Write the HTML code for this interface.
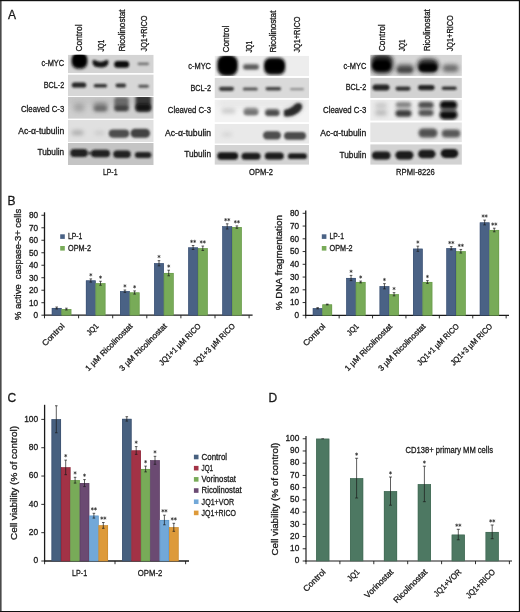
<!DOCTYPE html>
<html><head><meta charset="utf-8"><title>Figure</title>
<style>
html,body{margin:0;padding:0;background:#fff;}
body{width:520px;height:612px;overflow:hidden;font-family:"Liberation Sans", sans-serif;}
svg{display:block;font-family:"Liberation Sans", sans-serif;will-change:transform;}
text{stroke:#1a1a1a;stroke-width:0.3px;}
</style></head><body>
<svg width="520" height="612" viewBox="0 0 520 612">
<defs>
<filter id="b06" x="-50%" y="-100%" width="200%" height="300%"><feGaussianBlur stdDeviation="0.6"/></filter>
<filter id="b08" x="-50%" y="-100%" width="200%" height="300%"><feGaussianBlur stdDeviation="0.8"/></filter>
<filter id="b10" x="-50%" y="-100%" width="200%" height="300%"><feGaussianBlur stdDeviation="1.0"/></filter>
<filter id="b13" x="-50%" y="-100%" width="200%" height="300%"><feGaussianBlur stdDeviation="1.3"/></filter>
<filter id="b16" x="-50%" y="-100%" width="200%" height="300%"><feGaussianBlur stdDeviation="1.6"/></filter>
<filter id="b20" x="-50%" y="-100%" width="200%" height="300%"><feGaussianBlur stdDeviation="2.0"/></filter>
<filter id="b25" x="-50%" y="-100%" width="200%" height="300%"><feGaussianBlur stdDeviation="2.5"/></filter>
<filter id="b30" x="-50%" y="-100%" width="200%" height="300%"><feGaussianBlur stdDeviation="3.0"/></filter>
</defs>
<rect x="0" y="0" width="520" height="612" fill="#ffffff"/>
<text x="7.9" y="18.6" font-size="12" text-anchor="start" fill="#1a1a1a" >A</text>
<text x="7.4" y="205.3" font-size="12" text-anchor="start" fill="#1a1a1a" >B</text>
<text x="7.4" y="402" font-size="12" text-anchor="start" fill="#1a1a1a" >C</text>
<text x="268.6" y="402.1" font-size="12" text-anchor="start" fill="#1a1a1a" >D</text>
<text x="81.7" y="51.5" font-size="8.6" text-anchor="start" fill="#1a1a1a" textLength="27" lengthAdjust="spacingAndGlyphs" transform="rotate(-90 81.7 51.5)" >Control</text>
<text x="103.8" y="51.5" font-size="8.6" text-anchor="start" fill="#1a1a1a" textLength="11.8" lengthAdjust="spacingAndGlyphs" transform="rotate(-90 103.8 51.5)" >JQ1</text>
<text x="125.4" y="51.5" font-size="8.6" text-anchor="start" fill="#1a1a1a" textLength="42" lengthAdjust="spacingAndGlyphs" transform="rotate(-90 125.4 51.5)" >Ricolinostat</text>
<text x="146.6" y="51.5" font-size="8.6" text-anchor="start" fill="#1a1a1a" textLength="36" lengthAdjust="spacingAndGlyphs" transform="rotate(-90 146.6 51.5)" >JQ1+RICO</text>
<text x="64.2" y="66.3" font-size="8.6" text-anchor="end" fill="#1a1a1a" textLength="22.7" lengthAdjust="spacingAndGlyphs" >c-MYC</text>
<text x="64.2" y="88.3" font-size="8.6" text-anchor="end" fill="#1a1a1a" textLength="20.5" lengthAdjust="spacingAndGlyphs" >BCL-2</text>
<text x="64.2" y="111.5" font-size="8.6" text-anchor="end" fill="#1a1a1a" textLength="43.2" lengthAdjust="spacingAndGlyphs" >Cleaved C-3</text>
<text x="64.2" y="134" font-size="8.6" text-anchor="end" fill="#1a1a1a" textLength="46" lengthAdjust="spacingAndGlyphs" >Ac-α-tubulin</text>
<text x="64.2" y="155.2" font-size="8.6" text-anchor="end" fill="#1a1a1a" textLength="26.8" lengthAdjust="spacingAndGlyphs" >Tubulin</text>
<clipPath id="c1"><rect x="68" y="54.7" width="85.69999999999999" height="18.5"/></clipPath>
<g clip-path="url(#c1)">
<rect x="68" y="54.7" width="85.69999999999999" height="18.5" fill="#d4d4d4"/>
<rect x="71.75" y="53.25" width="15.5" height="15.5" rx="6" fill="#0a0a0a" opacity="1" filter="url(#b16)"/>
<rect x="73.25" y="53.75" width="12.5" height="12.5" rx="5" fill="#000" opacity="1" filter="url(#b10)"/>
<path d="M92.7 60.6 C93.1 59.7 95 59.9 96.5 60.7 C99 62.1 102 62.1 104.5 60.7 C106 59.9 107.9 59.7 108.3 60.8 C108.9 63.2 107.7 66.6 104 67.2 C101.5 67.6 99 67.6 96.5 67.1 C93.1 66.4 92.1 63.2 92.7 60.6 Z" fill="#141414" opacity="1" filter="url(#b08)"/>
<rect x="114.20" y="61.10" width="15" height="6.6" rx="3.3" fill="#101010" opacity="1" filter="url(#b10)"/>
<rect x="137.55" y="62.45" width="11.5" height="2.7" rx="1.35" fill="#555" opacity="0.75" filter="url(#b10)"/>
</g>
<clipPath id="c2"><rect x="68" y="74.4" width="85.69999999999999" height="21.799999999999997"/></clipPath>
<g clip-path="url(#c2)">
<rect x="68" y="74.4" width="85.69999999999999" height="21.799999999999997" fill="#d7d7d7"/>
<rect x="71.75" y="82.40" width="14.5" height="5.2" rx="2.6" fill="#1c1c1c" opacity="0.95" filter="url(#b10)"/>
<rect x="93.65" y="83.90" width="13.5" height="3.6" rx="1.8" fill="#222" opacity="0.9" filter="url(#b10)"/>
<rect x="115.55" y="83.40" width="10.5" height="4" rx="2.0" fill="#222" opacity="0.9" filter="url(#b10)"/>
<rect x="138.35" y="84.75" width="10.5" height="2.9" rx="1.45" fill="#333" opacity="0.8" filter="url(#b10)"/>
</g>
<clipPath id="c3"><rect x="68" y="97.0" width="85.69999999999999" height="21.799999999999997"/></clipPath>
<g clip-path="url(#c3)">
<rect x="68" y="97.0" width="85.69999999999999" height="21.799999999999997" fill="#cfcfcf"/>
<rect x="66.00" y="96.00" width="90" height="8" rx="4.0" fill="#b8b8b8" opacity="0.6" filter="url(#b30)"/>
<rect x="73.50" y="103.50" width="11" height="8" rx="4.0" fill="#777" opacity="0.5" filter="url(#b25)"/>
<rect x="93.50" y="102.50" width="14" height="9" rx="3" fill="#555" opacity="0.6" filter="url(#b20)"/>
<rect x="94.00" y="106.45" width="13" height="4.5" rx="2.25" fill="#444" opacity="0.45" filter="url(#b16)"/>
<rect x="114.25" y="97.00" width="14.5" height="14" rx="3" fill="#444" opacity="0.7" filter="url(#b16)"/>
<rect x="114.50" y="105.55" width="14" height="5.5" rx="2.75" fill="#222" opacity="0.6" filter="url(#b16)"/>
<rect x="135.55" y="94.50" width="15.5" height="17" rx="3" fill="#222" opacity="0.88" filter="url(#b16)"/>
<rect x="135.80" y="104.00" width="15" height="7" rx="3.5" fill="#0a0a0a" opacity="0.85" filter="url(#b16)"/>
</g>
<clipPath id="c4"><rect x="68" y="120.0" width="85.69999999999999" height="22.0"/></clipPath>
<g clip-path="url(#c4)">
<rect x="68" y="120.0" width="85.69999999999999" height="22.0" fill="#e0e0e0"/>
<rect x="71.50" y="130.55" width="12" height="4.5" rx="2.25" fill="#666" opacity="0.45" filter="url(#b20)"/>
<rect x="94.50" y="131.00" width="10" height="4" rx="2.0" fill="#888" opacity="0.25" filter="url(#b20)"/>
<rect x="108.75" y="129.50" width="20.5" height="8.2" rx="4.1" fill="#3c3c3c" opacity="0.9" filter="url(#b13)"/>
<rect x="130.55" y="128.70" width="19.5" height="9" rx="4.5" fill="#363636" opacity="0.92" filter="url(#b13)"/>
</g>
<clipPath id="c5"><rect x="68" y="142.9" width="85.69999999999999" height="22.099999999999994"/></clipPath>
<g clip-path="url(#c5)">
<rect x="68" y="142.9" width="85.69999999999999" height="22.099999999999994" fill="#c4c4c4"/>
<rect x="70.25" y="149.00" width="17.5" height="8" rx="4.0" fill="#1a1a1a" opacity="0.97" filter="url(#b10)"/>
<rect x="91.10" y="149.70" width="19" height="7.6" rx="3.8" fill="#1c1c1c" opacity="0.97" filter="url(#b10)"/>
<rect x="87.00" y="152.05" width="6" height="2.5" rx="1.25" fill="#222" opacity="0.8" filter="url(#b10)"/>
<rect x="113.25" y="150.50" width="17.5" height="7.4" rx="3.7" fill="#1c1c1c" opacity="0.97" filter="url(#b10)"/>
<rect x="134.85" y="152.00" width="16.5" height="6" rx="3.0" fill="#1e1e1e" opacity="0.97" filter="url(#b10)"/>
</g>
<text x="110.2" y="175.4" font-size="9.1" text-anchor="middle" fill="#1a1a1a" textLength="14.6" lengthAdjust="spacingAndGlyphs" >LP-1</text>
<text x="229.4" y="52.6" font-size="8.6" text-anchor="start" fill="#1a1a1a" textLength="27" lengthAdjust="spacingAndGlyphs" transform="rotate(-90 229.4 52.6)" >Control</text>
<text x="251.7" y="52.6" font-size="8.6" text-anchor="start" fill="#1a1a1a" textLength="11.8" lengthAdjust="spacingAndGlyphs" transform="rotate(-90 251.7 52.6)" >JQ1</text>
<text x="275.6" y="52.6" font-size="8.6" text-anchor="start" fill="#1a1a1a" textLength="42" lengthAdjust="spacingAndGlyphs" transform="rotate(-90 275.6 52.6)" >Ricolinostat</text>
<text x="299.8" y="52.6" font-size="8.6" text-anchor="start" fill="#1a1a1a" textLength="36" lengthAdjust="spacingAndGlyphs" transform="rotate(-90 299.8 52.6)" >JQ1+RICO</text>
<text x="211" y="68.5" font-size="8.6" text-anchor="end" fill="#1a1a1a" textLength="22.7" lengthAdjust="spacingAndGlyphs" >c-MYC</text>
<text x="211" y="90.8" font-size="8.6" text-anchor="end" fill="#1a1a1a" textLength="20.5" lengthAdjust="spacingAndGlyphs" >BCL-2</text>
<text x="211" y="113.1" font-size="8.6" text-anchor="end" fill="#1a1a1a" textLength="43.2" lengthAdjust="spacingAndGlyphs" >Cleaved C-3</text>
<text x="211" y="136.2" font-size="8.6" text-anchor="end" fill="#1a1a1a" textLength="46" lengthAdjust="spacingAndGlyphs" >Ac-α-tubulin</text>
<text x="211" y="157.2" font-size="8.6" text-anchor="end" fill="#1a1a1a" textLength="26.8" lengthAdjust="spacingAndGlyphs" >Tubulin</text>
<clipPath id="c6"><rect x="214.5" y="55.8" width="94.5" height="20.200000000000003"/></clipPath>
<g clip-path="url(#c6)">
<rect x="214.5" y="55.8" width="94.5" height="20.200000000000003" fill="#ededed"/>
<rect x="217.25" y="55.00" width="20.5" height="21" rx="8" fill="#0c0c0c" opacity="1" filter="url(#b16)"/>
<rect x="219.00" y="57.00" width="17" height="16" rx="7" fill="#000" opacity="1" filter="url(#b10)"/>
<rect x="243.00" y="64.00" width="16" height="5.6" rx="2.8" fill="#555" opacity="0.85" filter="url(#b16)"/>
<rect x="244.00" y="66.10" width="14" height="3" rx="1.5" fill="#444" opacity="0.5" filter="url(#b10)"/>
<rect x="264.10" y="57.80" width="21" height="17" rx="6" fill="#111" opacity="1" filter="url(#b16)"/>
<rect x="265.35" y="60.50" width="18.5" height="11" rx="5.5" fill="#000" opacity="1" filter="url(#b10)"/>
</g>
<clipPath id="c7"><rect x="214.5" y="77.8" width="94.5" height="20.400000000000006"/></clipPath>
<g clip-path="url(#c7)">
<rect x="214.5" y="77.8" width="94.5" height="20.400000000000006" fill="#dadada"/>
<rect x="219.00" y="86.70" width="15" height="4.2" rx="2.1" fill="#2a2a2a" opacity="0.9" filter="url(#b10)"/>
<rect x="242.80" y="87.40" width="15" height="3.2" rx="1.6" fill="#333" opacity="0.8" filter="url(#b10)"/>
<rect x="265.55" y="87.10" width="15.5" height="3.4" rx="1.7" fill="#2a2a2a" opacity="0.85" filter="url(#b10)"/>
<rect x="290.00" y="88.05" width="14" height="2.3" rx="1.15" fill="#666" opacity="0.65" filter="url(#b10)"/>
</g>
<clipPath id="c8"><rect x="214.5" y="99.7" width="94.5" height="22.599999999999994"/></clipPath>
<g clip-path="url(#c8)">
<rect x="214.5" y="99.7" width="94.5" height="22.599999999999994" fill="#f3f3f3"/>
<rect x="217.00" y="100.00" width="90" height="6" rx="3.0" fill="#ddd" opacity="0.7" filter="url(#b30)"/>
<rect x="221.50" y="108.75" width="14" height="4.5" rx="2.25" fill="#999" opacity="0.5" filter="url(#b20)"/>
<rect x="243.50" y="107.80" width="15" height="7.4" rx="3.7" fill="#666" opacity="0.78" filter="url(#b16)"/>
<rect x="244.00" y="111.25" width="14" height="3.5" rx="1.75" fill="#555" opacity="0.4" filter="url(#b13)"/>
<rect x="265.05" y="109.00" width="14.5" height="6.8" rx="3.4" fill="#444" opacity="0.85" filter="url(#b16)"/>
<rect x="265.55" y="111.80" width="13.5" height="3.6" rx="1.8" fill="#333" opacity="0.5" filter="url(#b10)"/>
<path d="M284.2 110.2 C288 109.8 292 108 295.5 104.3 C297.8 102.6 301.4 102.8 301.9 106 C302.3 109.8 298 113.4 293 115.2 C289 116.5 285.3 116.6 284.2 115.8 Z" fill="#1e1e1e" opacity="0.95" filter="url(#b10)"/>
<path d="M284.2 110.2 C288 109.8 292 108 295.5 104.3 C297.8 102.6 301.4 102.8 301.9 106 C302.3 109.8 298 113.4 293 115.2 C289 116.5 285.3 116.6 284.2 115.8 Z" fill="#333" opacity="0.5" filter="url(#b20)"/>
</g>
<clipPath id="c9"><rect x="214.5" y="123.9" width="94.5" height="19.799999999999983"/></clipPath>
<g clip-path="url(#c9)">
<rect x="214.5" y="123.9" width="94.5" height="19.799999999999983" fill="#e9e9e9"/>
<rect x="222.00" y="132.50" width="10" height="4" rx="2.0" fill="#aaa" opacity="0.35" filter="url(#b20)"/>
<rect x="263.00" y="131.20" width="18" height="8.4" rx="4.2" fill="#404040" opacity="0.92" filter="url(#b13)"/>
<rect x="284.00" y="131.90" width="22" height="7.8" rx="3.9" fill="#3e3e3e" opacity="0.92" filter="url(#b13)"/>
</g>
<clipPath id="c10"><rect x="214.5" y="145.0" width="94.5" height="19.80000000000001"/></clipPath>
<g clip-path="url(#c10)">
<rect x="214.5" y="145.0" width="94.5" height="19.80000000000001" fill="#d3d3d3"/>
<rect x="217.20" y="152.30" width="21" height="7.4" rx="3.7" fill="#181818" opacity="1" filter="url(#b10)"/>
<rect x="241.50" y="152.70" width="19" height="7" rx="3.5" fill="#1a1a1a" opacity="1" filter="url(#b10)"/>
<rect x="264.80" y="152.60" width="19" height="7" rx="3.5" fill="#1a1a1a" opacity="1" filter="url(#b10)"/>
<rect x="287.90" y="153.30" width="19" height="5.8" rx="2.9" fill="#1c1c1c" opacity="1" filter="url(#b10)"/>
</g>
<text x="261" y="175.2" font-size="9.1" text-anchor="middle" fill="#1a1a1a" textLength="24" lengthAdjust="spacingAndGlyphs" >OPM-2</text>
<text x="384.7" y="51.3" font-size="8.6" text-anchor="start" fill="#1a1a1a" textLength="27" lengthAdjust="spacingAndGlyphs" transform="rotate(-90 384.7 51.3)" >Control</text>
<text x="404.8" y="51.3" font-size="8.6" text-anchor="start" fill="#1a1a1a" textLength="11.8" lengthAdjust="spacingAndGlyphs" transform="rotate(-90 404.8 51.3)" >JQ1</text>
<text x="430.4" y="51.3" font-size="8.6" text-anchor="start" fill="#1a1a1a" textLength="42" lengthAdjust="spacingAndGlyphs" transform="rotate(-90 430.4 51.3)" >Ricolinostat</text>
<text x="453.4" y="51.3" font-size="8.6" text-anchor="start" fill="#1a1a1a" textLength="36" lengthAdjust="spacingAndGlyphs" transform="rotate(-90 453.4 51.3)" >JQ1+RICO</text>
<text x="366.3" y="68.5" font-size="8.6" text-anchor="end" fill="#1a1a1a" textLength="22.7" lengthAdjust="spacingAndGlyphs" >c-MYC</text>
<text x="366.3" y="90.3" font-size="8.6" text-anchor="end" fill="#1a1a1a" textLength="20.5" lengthAdjust="spacingAndGlyphs" >BCL-2</text>
<text x="366.3" y="113.1" font-size="8.6" text-anchor="end" fill="#1a1a1a" textLength="43.2" lengthAdjust="spacingAndGlyphs" >Cleaved C-3</text>
<text x="366.3" y="136.3" font-size="8.6" text-anchor="end" fill="#1a1a1a" textLength="46" lengthAdjust="spacingAndGlyphs" >Ac-α-tubulin</text>
<text x="366.3" y="157.6" font-size="8.6" text-anchor="end" fill="#1a1a1a" textLength="26.8" lengthAdjust="spacingAndGlyphs" >Tubulin</text>
<clipPath id="c11"><rect x="370.2" y="54.8" width="91.69999999999999" height="21.10000000000001"/></clipPath>
<g clip-path="url(#c11)">
<rect x="370.2" y="54.8" width="91.69999999999999" height="21.10000000000001" fill="#d6d6d6"/>
<rect x="371.00" y="54.50" width="22" height="19" rx="7" fill="#1a1a1a" opacity="1" filter="url(#b20)"/>
<rect x="372.75" y="60.50" width="17.5" height="10" rx="5.0" fill="#050505" opacity="1" filter="url(#b13)"/>
<rect x="396.00" y="64.50" width="18" height="9" rx="4.5" fill="#444" opacity="0.88" filter="url(#b20)"/>
<rect x="397.75" y="68.30" width="14.5" height="4" rx="2.0" fill="#333" opacity="0.5" filter="url(#b13)"/>
<rect x="417.25" y="58.80" width="21.5" height="14" rx="7.0" fill="#1e1e1e" opacity="0.95" filter="url(#b20)"/>
<rect x="419.00" y="64.05" width="18" height="7.5" rx="3.75" fill="#050505" opacity="0.9" filter="url(#b13)"/>
<rect x="442.50" y="64.45" width="16" height="7.5" rx="3.75" fill="#555" opacity="0.82" filter="url(#b20)"/>
</g>
<clipPath id="c12"><rect x="370.2" y="77.8" width="91.69999999999999" height="20.299999999999997"/></clipPath>
<g clip-path="url(#c12)">
<rect x="370.2" y="77.8" width="91.69999999999999" height="20.299999999999997" fill="#d2d2d2"/>
<rect x="372.50" y="84.60" width="17" height="5.8" rx="2.9" fill="#1a1a1a" opacity="0.95" filter="url(#b10)"/>
<rect x="395.50" y="86.50" width="15" height="4.2" rx="2.1" fill="#222" opacity="0.9" filter="url(#b10)"/>
<rect x="418.05" y="85.00" width="16.5" height="5.2" rx="2.6" fill="#1c1c1c" opacity="0.95" filter="url(#b10)"/>
<rect x="441.70" y="86.50" width="15" height="3.6" rx="1.8" fill="#222" opacity="0.9" filter="url(#b10)"/>
</g>
<clipPath id="c13"><rect x="370.2" y="99.6" width="91.69999999999999" height="21.200000000000003"/></clipPath>
<g clip-path="url(#c13)">
<rect x="370.2" y="99.6" width="91.69999999999999" height="21.200000000000003" fill="#ebebeb"/>
<rect x="375.00" y="103.25" width="12" height="4.5" rx="2.25" fill="#999" opacity="0.5" filter="url(#b20)"/>
<rect x="375.00" y="110.05" width="12" height="5.5" rx="2.75" fill="#888" opacity="0.5" filter="url(#b20)"/>
<rect x="396.00" y="102.50" width="15" height="12" rx="6.0" fill="#999" opacity="0.45" filter="url(#b20)"/>
<rect x="418.50" y="102.50" width="15" height="12" rx="6.0" fill="#888" opacity="0.45" filter="url(#b20)"/>
<rect x="395.75" y="102.30" width="15.5" height="4.8" rx="2.4" fill="#666" opacity="0.72" filter="url(#b16)"/>
<rect x="395.50" y="110.30" width="16" height="6.4" rx="3.2" fill="#2a2a2a" opacity="0.9" filter="url(#b16)"/>
<rect x="418.50" y="102.10" width="15" height="5.6" rx="2.8" fill="#333" opacity="0.82" filter="url(#b16)"/>
<rect x="418.50" y="110.00" width="15" height="6" rx="3.0" fill="#3a3a3a" opacity="0.82" filter="url(#b16)"/>
<rect x="439.75" y="100.75" width="17.5" height="8.5" rx="4.25" fill="#0c0c0c" opacity="1" filter="url(#b16)"/>
<rect x="439.50" y="110.40" width="18" height="9" rx="4.5" fill="#0a0a0a" opacity="1" filter="url(#b16)"/>
<rect x="440.50" y="107.30" width="16" height="5" rx="2.5" fill="#444" opacity="0.6" filter="url(#b16)"/>
</g>
<clipPath id="c14"><rect x="370.2" y="122.3" width="91.69999999999999" height="20.000000000000014"/></clipPath>
<g clip-path="url(#c14)">
<rect x="370.2" y="122.3" width="91.69999999999999" height="20.000000000000014" fill="#e4e4e4"/>
<rect x="418.50" y="128.50" width="19" height="9" rx="4.5" fill="#444" opacity="0.92" filter="url(#b16)"/>
<rect x="441.75" y="129.40" width="18.5" height="8" rx="4.0" fill="#484848" opacity="0.9" filter="url(#b16)"/>
</g>
<clipPath id="c15"><rect x="370.2" y="144.2" width="91.69999999999999" height="20.600000000000023"/></clipPath>
<g clip-path="url(#c15)">
<rect x="370.2" y="144.2" width="91.69999999999999" height="20.600000000000023" fill="#d2d2d2"/>
<rect x="371.95" y="151.60" width="18.5" height="8" rx="4.0" fill="#1a1a1a" opacity="1" filter="url(#b13)"/>
<rect x="395.40" y="151.10" width="18" height="8.4" rx="4.2" fill="#1a1a1a" opacity="1" filter="url(#b13)"/>
<rect x="418.05" y="149.70" width="17.5" height="8.6" rx="4.3" fill="#1e1e1e" opacity="1" filter="url(#b13)"/>
<rect x="440.75" y="148.90" width="17.5" height="9" rx="4.5" fill="#181818" opacity="1" filter="url(#b13)"/>
</g>
<text x="415.4" y="175.4" font-size="9.1" text-anchor="middle" fill="#1a1a1a" textLength="38.6" lengthAdjust="spacingAndGlyphs" >RPMI-8226</text>
<line x1="44.50" y1="212.30" x2="44.50" y2="315.80" stroke="#1a1a1a" stroke-width="1.3"/>
<line x1="41.40" y1="315.20" x2="44.50" y2="315.20" stroke="#1a1a1a" stroke-width="0.9"/>
<text x="38.1" y="318.09999999999997" font-size="8.2" text-anchor="end" fill="#1a1a1a" >0</text>
<line x1="41.40" y1="302.71" x2="44.50" y2="302.71" stroke="#1a1a1a" stroke-width="0.9"/>
<text x="38.1" y="305.60999999999996" font-size="8.2" text-anchor="end" fill="#1a1a1a" >10</text>
<line x1="41.40" y1="290.22" x2="44.50" y2="290.22" stroke="#1a1a1a" stroke-width="0.9"/>
<text x="38.1" y="293.11999999999995" font-size="8.2" text-anchor="end" fill="#1a1a1a" >20</text>
<line x1="41.40" y1="277.73" x2="44.50" y2="277.73" stroke="#1a1a1a" stroke-width="0.9"/>
<text x="38.1" y="280.62999999999994" font-size="8.2" text-anchor="end" fill="#1a1a1a" >30</text>
<line x1="41.40" y1="265.24" x2="44.50" y2="265.24" stroke="#1a1a1a" stroke-width="0.9"/>
<text x="38.1" y="268.14" font-size="8.2" text-anchor="end" fill="#1a1a1a" >40</text>
<line x1="41.40" y1="252.75" x2="44.50" y2="252.75" stroke="#1a1a1a" stroke-width="0.9"/>
<text x="38.1" y="255.65" font-size="8.2" text-anchor="end" fill="#1a1a1a" >50</text>
<line x1="41.40" y1="240.26" x2="44.50" y2="240.26" stroke="#1a1a1a" stroke-width="0.9"/>
<text x="38.1" y="243.16" font-size="8.2" text-anchor="end" fill="#1a1a1a" >60</text>
<line x1="41.40" y1="227.77" x2="44.50" y2="227.77" stroke="#1a1a1a" stroke-width="0.9"/>
<text x="38.1" y="230.67" font-size="8.2" text-anchor="end" fill="#1a1a1a" >70</text>
<line x1="41.40" y1="215.28" x2="44.50" y2="215.28" stroke="#1a1a1a" stroke-width="0.9"/>
<text x="38.1" y="218.17999999999998" font-size="8.2" text-anchor="end" fill="#1a1a1a" >80</text>
<line x1="43.90" y1="315.20" x2="252.60" y2="315.20" stroke="#1a1a1a" stroke-width="1.3"/>
<line x1="44.50" y1="315.20" x2="44.50" y2="318.30" stroke="#1a1a1a" stroke-width="0.9"/>
<line x1="78.60" y1="315.20" x2="78.60" y2="318.30" stroke="#1a1a1a" stroke-width="0.9"/>
<line x1="112.70" y1="315.20" x2="112.70" y2="318.30" stroke="#1a1a1a" stroke-width="0.9"/>
<line x1="146.80" y1="315.20" x2="146.80" y2="318.30" stroke="#1a1a1a" stroke-width="0.9"/>
<line x1="180.90" y1="315.20" x2="180.90" y2="318.30" stroke="#1a1a1a" stroke-width="0.9"/>
<line x1="215.00" y1="315.20" x2="215.00" y2="318.30" stroke="#1a1a1a" stroke-width="0.9"/>
<line x1="249.10" y1="315.20" x2="249.10" y2="318.30" stroke="#1a1a1a" stroke-width="0.9"/>
<text x="20.8" y="264.4" font-size="9.2" text-anchor="middle" fill="#1a1a1a" textLength="111" lengthAdjust="spacingAndGlyphs" transform="rotate(-90 20.8 264.4)">% active  caspase-3+ cells</text>
<rect x="51.85" y="308.00" width="9.70" height="7.20" fill="#4a6285"/>
<rect x="52.10" y="308.25" width="9.20" height="6.95" fill="none" stroke="#3a5072" stroke-width="0.6" opacity="0.9"/>
<line x1="56.70" y1="307.00" x2="56.70" y2="309.00" stroke="#1a1a1a" stroke-width="0.7"/>
<line x1="55.40" y1="307.00" x2="58.00" y2="307.00" stroke="#1a1a1a" stroke-width="0.7"/>
<line x1="55.40" y1="309.00" x2="58.00" y2="309.00" stroke="#1a1a1a" stroke-width="0.7"/>
<rect x="61.55" y="309.10" width="9.70" height="6.10" fill="#78ab58"/>
<rect x="61.80" y="309.35" width="9.20" height="5.85" fill="none" stroke="#669848" stroke-width="0.6" opacity="0.9"/>
<line x1="66.40" y1="308.20" x2="66.40" y2="310.00" stroke="#1a1a1a" stroke-width="0.7"/>
<line x1="65.10" y1="308.20" x2="67.70" y2="308.20" stroke="#1a1a1a" stroke-width="0.7"/>
<line x1="65.10" y1="310.00" x2="67.70" y2="310.00" stroke="#1a1a1a" stroke-width="0.7"/>
<text x="65.05" y="326.7" font-size="8" text-anchor="end" fill="#1a1a1a" textLength="28" lengthAdjust="spacingAndGlyphs" transform="rotate(-45 65.05 326.7)" >Control</text>
<rect x="85.95" y="280.50" width="9.70" height="34.70" fill="#4a6285"/>
<rect x="86.20" y="280.75" width="9.20" height="34.45" fill="none" stroke="#3a5072" stroke-width="0.6" opacity="0.9"/>
<line x1="90.80" y1="278.90" x2="90.80" y2="282.10" stroke="#1a1a1a" stroke-width="0.7"/>
<line x1="89.50" y1="278.90" x2="92.10" y2="278.90" stroke="#1a1a1a" stroke-width="0.7"/>
<line x1="89.50" y1="282.10" x2="92.10" y2="282.10" stroke="#1a1a1a" stroke-width="0.7"/>
<path d="M90.80 273.55L90.80 276.05M89.72 274.17L91.88 275.42M91.88 274.17L89.72 275.42" stroke="#1a1a1a" stroke-width="0.62" fill="none" stroke-linecap="round"/>
<rect x="95.65" y="283.25" width="9.70" height="31.95" fill="#78ab58"/>
<rect x="95.90" y="283.50" width="9.20" height="31.70" fill="none" stroke="#669848" stroke-width="0.6" opacity="0.9"/>
<line x1="100.50" y1="281.25" x2="100.50" y2="285.25" stroke="#1a1a1a" stroke-width="0.7"/>
<line x1="99.20" y1="281.25" x2="101.80" y2="281.25" stroke="#1a1a1a" stroke-width="0.7"/>
<line x1="99.20" y1="285.25" x2="101.80" y2="285.25" stroke="#1a1a1a" stroke-width="0.7"/>
<path d="M100.50 275.90L100.50 278.40M99.42 276.52L101.58 277.77M101.58 276.52L99.42 277.77" stroke="#1a1a1a" stroke-width="0.62" fill="none" stroke-linecap="round"/>
<text x="99.15" y="326.7" font-size="8" text-anchor="end" fill="#1a1a1a" textLength="13.2" lengthAdjust="spacingAndGlyphs" transform="rotate(-45 99.15 326.7)" >JQ1</text>
<rect x="120.05" y="291.20" width="9.70" height="24.00" fill="#4a6285"/>
<rect x="120.30" y="291.45" width="9.20" height="23.75" fill="none" stroke="#3a5072" stroke-width="0.6" opacity="0.9"/>
<line x1="124.90" y1="290.00" x2="124.90" y2="292.40" stroke="#1a1a1a" stroke-width="0.7"/>
<line x1="123.60" y1="290.00" x2="126.20" y2="290.00" stroke="#1a1a1a" stroke-width="0.7"/>
<line x1="123.60" y1="292.40" x2="126.20" y2="292.40" stroke="#1a1a1a" stroke-width="0.7"/>
<path d="M124.90 284.65L124.90 287.15M123.82 285.27L125.98 286.52M125.98 285.27L123.82 286.52" stroke="#1a1a1a" stroke-width="0.62" fill="none" stroke-linecap="round"/>
<rect x="129.75" y="292.50" width="9.70" height="22.70" fill="#78ab58"/>
<rect x="130.00" y="292.75" width="9.20" height="22.45" fill="none" stroke="#669848" stroke-width="0.6" opacity="0.9"/>
<line x1="134.60" y1="290.90" x2="134.60" y2="294.10" stroke="#1a1a1a" stroke-width="0.7"/>
<line x1="133.30" y1="290.90" x2="135.90" y2="290.90" stroke="#1a1a1a" stroke-width="0.7"/>
<line x1="133.30" y1="294.10" x2="135.90" y2="294.10" stroke="#1a1a1a" stroke-width="0.7"/>
<path d="M134.60 285.55L134.60 288.05M133.52 286.17L135.68 287.42M135.68 286.17L133.52 287.42" stroke="#1a1a1a" stroke-width="0.62" fill="none" stroke-linecap="round"/>
<text x="133.25" y="326.7" font-size="8" text-anchor="end" fill="#1a1a1a" textLength="63.3" lengthAdjust="spacingAndGlyphs" transform="rotate(-45 133.25 326.7)" >1 µM Ricolinostat</text>
<rect x="154.15" y="263.25" width="9.70" height="51.95" fill="#4a6285"/>
<rect x="154.40" y="263.50" width="9.20" height="51.70" fill="none" stroke="#3a5072" stroke-width="0.6" opacity="0.9"/>
<line x1="159.00" y1="260.65" x2="159.00" y2="265.85" stroke="#1a1a1a" stroke-width="0.7"/>
<line x1="157.70" y1="260.65" x2="160.30" y2="260.65" stroke="#1a1a1a" stroke-width="0.7"/>
<line x1="157.70" y1="265.85" x2="160.30" y2="265.85" stroke="#1a1a1a" stroke-width="0.7"/>
<path d="M159.00 255.30L159.00 257.80M157.92 255.92L160.08 257.17M160.08 255.92L157.92 257.17" stroke="#1a1a1a" stroke-width="0.62" fill="none" stroke-linecap="round"/>
<rect x="163.85" y="273.00" width="9.70" height="42.20" fill="#78ab58"/>
<rect x="164.10" y="273.25" width="9.20" height="41.95" fill="none" stroke="#669848" stroke-width="0.6" opacity="0.9"/>
<line x1="168.70" y1="270.20" x2="168.70" y2="275.80" stroke="#1a1a1a" stroke-width="0.7"/>
<line x1="167.40" y1="270.20" x2="170.00" y2="270.20" stroke="#1a1a1a" stroke-width="0.7"/>
<line x1="167.40" y1="275.80" x2="170.00" y2="275.80" stroke="#1a1a1a" stroke-width="0.7"/>
<path d="M168.70 264.85L168.70 267.35M167.62 265.47L169.78 266.72M169.78 265.47L167.62 266.72" stroke="#1a1a1a" stroke-width="0.62" fill="none" stroke-linecap="round"/>
<text x="167.35000000000002" y="326.7" font-size="8" text-anchor="end" fill="#1a1a1a" textLength="63.3" lengthAdjust="spacingAndGlyphs" transform="rotate(-45 167.35000000000002 326.7)" >3 µM Ricolinostat</text>
<rect x="188.25" y="247.50" width="9.70" height="67.70" fill="#4a6285"/>
<rect x="188.50" y="247.75" width="9.20" height="67.45" fill="none" stroke="#3a5072" stroke-width="0.6" opacity="0.9"/>
<line x1="193.10" y1="245.50" x2="193.10" y2="249.50" stroke="#1a1a1a" stroke-width="0.7"/>
<line x1="191.80" y1="245.50" x2="194.40" y2="245.50" stroke="#1a1a1a" stroke-width="0.7"/>
<line x1="191.80" y1="249.50" x2="194.40" y2="249.50" stroke="#1a1a1a" stroke-width="0.7"/>
<path d="M191.55 240.15L191.55 242.65M190.47 240.77L192.63 242.02M192.63 240.77L190.47 242.02" stroke="#1a1a1a" stroke-width="0.62" fill="none" stroke-linecap="round"/>
<path d="M194.65 240.15L194.65 242.65M193.57 240.77L195.73 242.02M195.73 240.77L193.57 242.02" stroke="#1a1a1a" stroke-width="0.62" fill="none" stroke-linecap="round"/>
<rect x="197.95" y="248.25" width="9.70" height="66.95" fill="#78ab58"/>
<rect x="198.20" y="248.50" width="9.20" height="66.70" fill="none" stroke="#669848" stroke-width="0.6" opacity="0.9"/>
<line x1="202.80" y1="246.05" x2="202.80" y2="250.45" stroke="#1a1a1a" stroke-width="0.7"/>
<line x1="201.50" y1="246.05" x2="204.10" y2="246.05" stroke="#1a1a1a" stroke-width="0.7"/>
<line x1="201.50" y1="250.45" x2="204.10" y2="250.45" stroke="#1a1a1a" stroke-width="0.7"/>
<path d="M201.25 240.70L201.25 243.20M200.17 241.32L202.33 242.57M202.33 241.32L200.17 242.57" stroke="#1a1a1a" stroke-width="0.62" fill="none" stroke-linecap="round"/>
<path d="M204.35 240.70L204.35 243.20M203.27 241.32L205.43 242.57M205.43 241.32L203.27 242.57" stroke="#1a1a1a" stroke-width="0.62" fill="none" stroke-linecap="round"/>
<text x="201.45000000000002" y="326.7" font-size="8" text-anchor="end" fill="#1a1a1a" textLength="55.5" lengthAdjust="spacingAndGlyphs" transform="rotate(-45 201.45000000000002 326.7)" >JQ1+1 µM RICO</text>
<rect x="222.35" y="226.40" width="9.70" height="88.80" fill="#4a6285"/>
<rect x="222.60" y="226.65" width="9.20" height="88.55" fill="none" stroke="#3a5072" stroke-width="0.6" opacity="0.9"/>
<line x1="227.20" y1="223.80" x2="227.20" y2="229.00" stroke="#1a1a1a" stroke-width="0.7"/>
<line x1="225.90" y1="223.80" x2="228.50" y2="223.80" stroke="#1a1a1a" stroke-width="0.7"/>
<line x1="225.90" y1="229.00" x2="228.50" y2="229.00" stroke="#1a1a1a" stroke-width="0.7"/>
<path d="M225.65 218.45L225.65 220.95M224.57 219.07L226.73 220.32M226.73 219.07L224.57 220.32" stroke="#1a1a1a" stroke-width="0.62" fill="none" stroke-linecap="round"/>
<path d="M228.75 218.45L228.75 220.95M227.67 219.07L229.83 220.32M229.83 219.07L227.67 220.32" stroke="#1a1a1a" stroke-width="0.62" fill="none" stroke-linecap="round"/>
<rect x="232.05" y="227.10" width="9.70" height="88.10" fill="#78ab58"/>
<rect x="232.30" y="227.35" width="9.20" height="87.85" fill="none" stroke="#669848" stroke-width="0.6" opacity="0.9"/>
<line x1="236.90" y1="225.90" x2="236.90" y2="228.30" stroke="#1a1a1a" stroke-width="0.7"/>
<line x1="235.60" y1="225.90" x2="238.20" y2="225.90" stroke="#1a1a1a" stroke-width="0.7"/>
<line x1="235.60" y1="228.30" x2="238.20" y2="228.30" stroke="#1a1a1a" stroke-width="0.7"/>
<path d="M235.35 220.55L235.35 223.05M234.27 221.17L236.43 222.42M236.43 221.17L234.27 222.42" stroke="#1a1a1a" stroke-width="0.62" fill="none" stroke-linecap="round"/>
<path d="M238.45 220.55L238.45 223.05M237.37 221.17L239.53 222.42M239.53 221.17L237.37 222.42" stroke="#1a1a1a" stroke-width="0.62" fill="none" stroke-linecap="round"/>
<text x="235.55" y="326.7" font-size="8" text-anchor="end" fill="#1a1a1a" textLength="55.5" lengthAdjust="spacingAndGlyphs" transform="rotate(-45 235.55 326.7)" >JQ1+3 µM RICO</text>
<rect x="60.2" y="234.3" width="4.6" height="4.6" fill="#4a6285"/>
<text x="68.0" y="239.4" font-size="8.6" text-anchor="start" fill="#1a1a1a" textLength="14.3" lengthAdjust="spacingAndGlyphs" >LP-1</text>
<rect x="60.2" y="246" width="4.6" height="4.6" fill="#78ab58"/>
<text x="68.0" y="250.7" font-size="8.6" text-anchor="start" fill="#1a1a1a" textLength="23" lengthAdjust="spacingAndGlyphs" >OPM-2</text>
<line x1="305.75" y1="210.50" x2="305.75" y2="315.90" stroke="#1a1a1a" stroke-width="1.3"/>
<line x1="302.65" y1="315.30" x2="305.75" y2="315.30" stroke="#1a1a1a" stroke-width="0.9"/>
<text x="299.1" y="318.2" font-size="8.2" text-anchor="end" fill="#1a1a1a" >0</text>
<line x1="302.65" y1="302.55" x2="305.75" y2="302.55" stroke="#1a1a1a" stroke-width="0.9"/>
<text x="299.1" y="305.45" font-size="8.2" text-anchor="end" fill="#1a1a1a" >10</text>
<line x1="302.65" y1="289.80" x2="305.75" y2="289.80" stroke="#1a1a1a" stroke-width="0.9"/>
<text x="299.1" y="292.7" font-size="8.2" text-anchor="end" fill="#1a1a1a" >20</text>
<line x1="302.65" y1="277.05" x2="305.75" y2="277.05" stroke="#1a1a1a" stroke-width="0.9"/>
<text x="299.1" y="279.95" font-size="8.2" text-anchor="end" fill="#1a1a1a" >30</text>
<line x1="302.65" y1="264.30" x2="305.75" y2="264.30" stroke="#1a1a1a" stroke-width="0.9"/>
<text x="299.1" y="267.2" font-size="8.2" text-anchor="end" fill="#1a1a1a" >40</text>
<line x1="302.65" y1="251.55" x2="305.75" y2="251.55" stroke="#1a1a1a" stroke-width="0.9"/>
<text x="299.1" y="254.45000000000002" font-size="8.2" text-anchor="end" fill="#1a1a1a" >50</text>
<line x1="302.65" y1="238.80" x2="305.75" y2="238.80" stroke="#1a1a1a" stroke-width="0.9"/>
<text x="299.1" y="241.70000000000002" font-size="8.2" text-anchor="end" fill="#1a1a1a" >60</text>
<line x1="302.65" y1="226.05" x2="305.75" y2="226.05" stroke="#1a1a1a" stroke-width="0.9"/>
<text x="299.1" y="228.95000000000002" font-size="8.2" text-anchor="end" fill="#1a1a1a" >70</text>
<line x1="302.65" y1="213.30" x2="305.75" y2="213.30" stroke="#1a1a1a" stroke-width="0.9"/>
<text x="299.1" y="216.20000000000002" font-size="8.2" text-anchor="end" fill="#1a1a1a" >80</text>
<line x1="305.15" y1="315.30" x2="509.00" y2="315.30" stroke="#1a1a1a" stroke-width="1.3"/>
<line x1="305.75" y1="315.30" x2="305.75" y2="318.40" stroke="#1a1a1a" stroke-width="0.9"/>
<line x1="339.15" y1="315.30" x2="339.15" y2="318.40" stroke="#1a1a1a" stroke-width="0.9"/>
<line x1="372.55" y1="315.30" x2="372.55" y2="318.40" stroke="#1a1a1a" stroke-width="0.9"/>
<line x1="405.95" y1="315.30" x2="405.95" y2="318.40" stroke="#1a1a1a" stroke-width="0.9"/>
<line x1="439.35" y1="315.30" x2="439.35" y2="318.40" stroke="#1a1a1a" stroke-width="0.9"/>
<line x1="472.75" y1="315.30" x2="472.75" y2="318.40" stroke="#1a1a1a" stroke-width="0.9"/>
<line x1="506.15" y1="315.30" x2="506.15" y2="318.40" stroke="#1a1a1a" stroke-width="0.9"/>
<text x="282.2" y="262.6" font-size="9.2" text-anchor="middle" fill="#1a1a1a" textLength="95.5" lengthAdjust="spacingAndGlyphs" transform="rotate(-90 282.2 262.6)">% DNA fragmentation</text>
<rect x="312.85" y="308.25" width="9.60" height="7.05" fill="#4a6285"/>
<rect x="313.10" y="308.50" width="9.10" height="6.80" fill="none" stroke="#3a5072" stroke-width="0.6" opacity="0.9"/>
<line x1="317.65" y1="307.65" x2="317.65" y2="308.85" stroke="#1a1a1a" stroke-width="0.7"/>
<line x1="316.35" y1="307.65" x2="318.95" y2="307.65" stroke="#1a1a1a" stroke-width="0.7"/>
<line x1="316.35" y1="308.85" x2="318.95" y2="308.85" stroke="#1a1a1a" stroke-width="0.7"/>
<rect x="322.45" y="304.50" width="9.60" height="10.80" fill="#78ab58"/>
<rect x="322.70" y="304.75" width="9.10" height="10.55" fill="none" stroke="#669848" stroke-width="0.6" opacity="0.9"/>
<line x1="327.25" y1="304.10" x2="327.25" y2="304.90" stroke="#1a1a1a" stroke-width="0.7"/>
<line x1="325.95" y1="304.10" x2="328.55" y2="304.10" stroke="#1a1a1a" stroke-width="0.7"/>
<line x1="325.95" y1="304.90" x2="328.55" y2="304.90" stroke="#1a1a1a" stroke-width="0.7"/>
<text x="325.95" y="326.8" font-size="8" text-anchor="end" fill="#1a1a1a" textLength="28" lengthAdjust="spacingAndGlyphs" transform="rotate(-45 325.95 326.8)" >Control</text>
<rect x="346.25" y="278.00" width="9.60" height="37.30" fill="#4a6285"/>
<rect x="346.50" y="278.25" width="9.10" height="37.05" fill="none" stroke="#3a5072" stroke-width="0.6" opacity="0.9"/>
<line x1="351.05" y1="275.40" x2="351.05" y2="280.60" stroke="#1a1a1a" stroke-width="0.7"/>
<line x1="349.75" y1="275.40" x2="352.35" y2="275.40" stroke="#1a1a1a" stroke-width="0.7"/>
<line x1="349.75" y1="280.60" x2="352.35" y2="280.60" stroke="#1a1a1a" stroke-width="0.7"/>
<path d="M351.05 270.05L351.05 272.55M349.97 270.67L352.13 271.92M352.13 270.67L349.97 271.92" stroke="#1a1a1a" stroke-width="0.62" fill="none" stroke-linecap="round"/>
<rect x="355.85" y="282.00" width="9.60" height="33.30" fill="#78ab58"/>
<rect x="356.10" y="282.25" width="9.10" height="33.05" fill="none" stroke="#669848" stroke-width="0.6" opacity="0.9"/>
<line x1="360.65" y1="281.10" x2="360.65" y2="282.90" stroke="#1a1a1a" stroke-width="0.7"/>
<line x1="359.35" y1="281.10" x2="361.95" y2="281.10" stroke="#1a1a1a" stroke-width="0.7"/>
<line x1="359.35" y1="282.90" x2="361.95" y2="282.90" stroke="#1a1a1a" stroke-width="0.7"/>
<path d="M360.65 275.75L360.65 278.25M359.57 276.38L361.73 277.62M361.73 276.38L359.57 277.62" stroke="#1a1a1a" stroke-width="0.62" fill="none" stroke-linecap="round"/>
<text x="359.35" y="326.8" font-size="8" text-anchor="end" fill="#1a1a1a" textLength="13.2" lengthAdjust="spacingAndGlyphs" transform="rotate(-45 359.35 326.8)" >JQ1</text>
<rect x="379.65" y="286.25" width="9.60" height="29.05" fill="#4a6285"/>
<rect x="379.90" y="286.50" width="9.10" height="28.80" fill="none" stroke="#3a5072" stroke-width="0.6" opacity="0.9"/>
<line x1="384.45" y1="283.65" x2="384.45" y2="288.85" stroke="#1a1a1a" stroke-width="0.7"/>
<line x1="383.15" y1="283.65" x2="385.75" y2="283.65" stroke="#1a1a1a" stroke-width="0.7"/>
<line x1="383.15" y1="288.85" x2="385.75" y2="288.85" stroke="#1a1a1a" stroke-width="0.7"/>
<path d="M384.45 278.30L384.45 280.80M383.37 278.92L385.53 280.17M385.53 278.92L383.37 280.17" stroke="#1a1a1a" stroke-width="0.62" fill="none" stroke-linecap="round"/>
<rect x="389.25" y="294.25" width="9.60" height="21.05" fill="#78ab58"/>
<rect x="389.50" y="294.50" width="9.10" height="20.80" fill="none" stroke="#669848" stroke-width="0.6" opacity="0.9"/>
<line x1="394.05" y1="292.65" x2="394.05" y2="295.85" stroke="#1a1a1a" stroke-width="0.7"/>
<line x1="392.75" y1="292.65" x2="395.35" y2="292.65" stroke="#1a1a1a" stroke-width="0.7"/>
<line x1="392.75" y1="295.85" x2="395.35" y2="295.85" stroke="#1a1a1a" stroke-width="0.7"/>
<path d="M394.05 287.30L394.05 289.80M392.97 287.92L395.13 289.17M395.13 287.92L392.97 289.17" stroke="#1a1a1a" stroke-width="0.62" fill="none" stroke-linecap="round"/>
<text x="392.75" y="326.8" font-size="8" text-anchor="end" fill="#1a1a1a" textLength="63.3" lengthAdjust="spacingAndGlyphs" transform="rotate(-45 392.75 326.8)" >1 µM Ricolinostat</text>
<rect x="413.05" y="248.75" width="9.60" height="66.55" fill="#4a6285"/>
<rect x="413.30" y="249.00" width="9.10" height="66.30" fill="none" stroke="#3a5072" stroke-width="0.6" opacity="0.9"/>
<line x1="417.85" y1="246.15" x2="417.85" y2="251.35" stroke="#1a1a1a" stroke-width="0.7"/>
<line x1="416.55" y1="246.15" x2="419.15" y2="246.15" stroke="#1a1a1a" stroke-width="0.7"/>
<line x1="416.55" y1="251.35" x2="419.15" y2="251.35" stroke="#1a1a1a" stroke-width="0.7"/>
<path d="M417.85 240.80L417.85 243.30M416.77 241.42L418.93 242.67M418.93 241.42L416.77 242.67" stroke="#1a1a1a" stroke-width="0.62" fill="none" stroke-linecap="round"/>
<rect x="422.65" y="282.00" width="9.60" height="33.30" fill="#78ab58"/>
<rect x="422.90" y="282.25" width="9.10" height="33.05" fill="none" stroke="#669848" stroke-width="0.6" opacity="0.9"/>
<line x1="427.45" y1="280.60" x2="427.45" y2="283.40" stroke="#1a1a1a" stroke-width="0.7"/>
<line x1="426.15" y1="280.60" x2="428.75" y2="280.60" stroke="#1a1a1a" stroke-width="0.7"/>
<line x1="426.15" y1="283.40" x2="428.75" y2="283.40" stroke="#1a1a1a" stroke-width="0.7"/>
<path d="M427.45 275.25L427.45 277.75M426.37 275.88L428.53 277.12M428.53 275.88L426.37 277.12" stroke="#1a1a1a" stroke-width="0.62" fill="none" stroke-linecap="round"/>
<text x="426.15" y="326.8" font-size="8" text-anchor="end" fill="#1a1a1a" textLength="63.3" lengthAdjust="spacingAndGlyphs" transform="rotate(-45 426.15 326.8)" >3 µM Ricolinostat</text>
<rect x="446.45" y="248.25" width="9.60" height="67.05" fill="#4a6285"/>
<rect x="446.70" y="248.50" width="9.10" height="66.80" fill="none" stroke="#3a5072" stroke-width="0.6" opacity="0.9"/>
<line x1="451.25" y1="246.65" x2="451.25" y2="249.85" stroke="#1a1a1a" stroke-width="0.7"/>
<line x1="449.95" y1="246.65" x2="452.55" y2="246.65" stroke="#1a1a1a" stroke-width="0.7"/>
<line x1="449.95" y1="249.85" x2="452.55" y2="249.85" stroke="#1a1a1a" stroke-width="0.7"/>
<path d="M449.70 241.30L449.70 243.80M448.62 241.92L450.78 243.17M450.78 241.92L448.62 243.17" stroke="#1a1a1a" stroke-width="0.62" fill="none" stroke-linecap="round"/>
<path d="M452.80 241.30L452.80 243.80M451.72 241.92L453.88 243.17M453.88 241.92L451.72 243.17" stroke="#1a1a1a" stroke-width="0.62" fill="none" stroke-linecap="round"/>
<rect x="456.05" y="251.25" width="9.60" height="64.05" fill="#78ab58"/>
<rect x="456.30" y="251.50" width="9.10" height="63.80" fill="none" stroke="#669848" stroke-width="0.6" opacity="0.9"/>
<line x1="460.85" y1="249.45" x2="460.85" y2="253.05" stroke="#1a1a1a" stroke-width="0.7"/>
<line x1="459.55" y1="249.45" x2="462.15" y2="249.45" stroke="#1a1a1a" stroke-width="0.7"/>
<line x1="459.55" y1="253.05" x2="462.15" y2="253.05" stroke="#1a1a1a" stroke-width="0.7"/>
<path d="M459.30 244.10L459.30 246.60M458.22 244.72L460.38 245.97M460.38 244.72L458.22 245.97" stroke="#1a1a1a" stroke-width="0.62" fill="none" stroke-linecap="round"/>
<path d="M462.40 244.10L462.40 246.60M461.32 244.72L463.48 245.97M463.48 244.72L461.32 245.97" stroke="#1a1a1a" stroke-width="0.62" fill="none" stroke-linecap="round"/>
<text x="459.54999999999995" y="326.8" font-size="8" text-anchor="end" fill="#1a1a1a" textLength="55.5" lengthAdjust="spacingAndGlyphs" transform="rotate(-45 459.54999999999995 326.8)" >JQ1+1 µM RICO</text>
<rect x="479.85" y="222.50" width="9.60" height="92.80" fill="#4a6285"/>
<rect x="480.10" y="222.75" width="9.10" height="92.55" fill="none" stroke="#3a5072" stroke-width="0.6" opacity="0.9"/>
<line x1="484.65" y1="220.10" x2="484.65" y2="224.90" stroke="#1a1a1a" stroke-width="0.7"/>
<line x1="483.35" y1="220.10" x2="485.95" y2="220.10" stroke="#1a1a1a" stroke-width="0.7"/>
<line x1="483.35" y1="224.90" x2="485.95" y2="224.90" stroke="#1a1a1a" stroke-width="0.7"/>
<path d="M483.10 214.75L483.10 217.25M482.02 215.37L484.18 216.62M484.18 215.37L482.02 216.62" stroke="#1a1a1a" stroke-width="0.62" fill="none" stroke-linecap="round"/>
<path d="M486.20 214.75L486.20 217.25M485.12 215.37L487.28 216.62M487.28 215.37L485.12 216.62" stroke="#1a1a1a" stroke-width="0.62" fill="none" stroke-linecap="round"/>
<rect x="489.45" y="230.00" width="9.60" height="85.30" fill="#78ab58"/>
<rect x="489.70" y="230.25" width="9.10" height="85.05" fill="none" stroke="#669848" stroke-width="0.6" opacity="0.9"/>
<line x1="494.25" y1="228.20" x2="494.25" y2="231.80" stroke="#1a1a1a" stroke-width="0.7"/>
<line x1="492.95" y1="228.20" x2="495.55" y2="228.20" stroke="#1a1a1a" stroke-width="0.7"/>
<line x1="492.95" y1="231.80" x2="495.55" y2="231.80" stroke="#1a1a1a" stroke-width="0.7"/>
<path d="M492.70 222.85L492.70 225.35M491.62 223.47L493.78 224.72M493.78 223.47L491.62 224.72" stroke="#1a1a1a" stroke-width="0.62" fill="none" stroke-linecap="round"/>
<path d="M495.80 222.85L495.80 225.35M494.72 223.47L496.88 224.72M496.88 223.47L494.72 224.72" stroke="#1a1a1a" stroke-width="0.62" fill="none" stroke-linecap="round"/>
<text x="492.95" y="326.8" font-size="8" text-anchor="end" fill="#1a1a1a" textLength="55.5" lengthAdjust="spacingAndGlyphs" transform="rotate(-45 492.95 326.8)" >JQ1+3 µM RICO</text>
<rect x="321.8" y="234.3" width="4.6" height="4.6" fill="#4a6285"/>
<text x="329.6" y="239.4" font-size="8.6" text-anchor="start" fill="#1a1a1a" textLength="14.3" lengthAdjust="spacingAndGlyphs" >LP-1</text>
<rect x="321.8" y="246" width="4.6" height="4.6" fill="#78ab58"/>
<text x="329.6" y="250.7" font-size="8.6" text-anchor="start" fill="#1a1a1a" textLength="23" lengthAdjust="spacingAndGlyphs" >OPM-2</text>
<line x1="44.60" y1="404.80" x2="44.60" y2="561.60" stroke="#1a1a1a" stroke-width="1.3"/>
<line x1="41.30" y1="561.00" x2="44.60" y2="561.00" stroke="#1a1a1a" stroke-width="0.9"/>
<text x="38.2" y="563.3" font-size="8.4" text-anchor="end" fill="#1a1a1a" >0</text>
<line x1="41.30" y1="532.68" x2="44.60" y2="532.68" stroke="#1a1a1a" stroke-width="0.9"/>
<text x="38.2" y="534.9799999999999" font-size="8.4" text-anchor="end" fill="#1a1a1a" >20</text>
<line x1="41.30" y1="504.36" x2="44.60" y2="504.36" stroke="#1a1a1a" stroke-width="0.9"/>
<text x="38.2" y="506.66" font-size="8.4" text-anchor="end" fill="#1a1a1a" >40</text>
<line x1="41.30" y1="476.04" x2="44.60" y2="476.04" stroke="#1a1a1a" stroke-width="0.9"/>
<text x="38.2" y="478.34000000000003" font-size="8.4" text-anchor="end" fill="#1a1a1a" >60</text>
<line x1="41.30" y1="447.72" x2="44.60" y2="447.72" stroke="#1a1a1a" stroke-width="0.9"/>
<text x="38.2" y="450.02000000000004" font-size="8.4" text-anchor="end" fill="#1a1a1a" >80</text>
<line x1="41.30" y1="419.40" x2="44.60" y2="419.40" stroke="#1a1a1a" stroke-width="0.9"/>
<text x="38.2" y="421.7" font-size="8.4" text-anchor="end" fill="#1a1a1a" >100</text>
<line x1="44.00" y1="561.00" x2="189.00" y2="561.00" stroke="#1a1a1a" stroke-width="1.3"/>
<line x1="44.60" y1="561.00" x2="44.60" y2="564.20" stroke="#1a1a1a" stroke-width="0.9"/>
<line x1="115.00" y1="561.00" x2="115.00" y2="564.20" stroke="#1a1a1a" stroke-width="0.9"/>
<line x1="185.60" y1="561.00" x2="185.60" y2="564.20" stroke="#1a1a1a" stroke-width="0.9"/>
<text x="16.9" y="483" font-size="9" text-anchor="middle" fill="#1a1a1a" textLength="114" lengthAdjust="spacingAndGlyphs" transform="rotate(-90 16.9 483)">Cell viability (% of control)</text>
<rect x="51.60" y="419.25" width="9.40" height="141.75" fill="#47607f"/>
<rect x="51.85" y="419.50" width="8.90" height="141.50" fill="none" stroke="#384d6b" stroke-width="0.6" opacity="0.9"/>
<line x1="56.30" y1="405.75" x2="56.30" y2="432.75" stroke="#1a1a1a" stroke-width="0.7"/>
<line x1="55.00" y1="405.75" x2="57.60" y2="405.75" stroke="#1a1a1a" stroke-width="0.7"/>
<line x1="55.00" y1="432.75" x2="57.60" y2="432.75" stroke="#1a1a1a" stroke-width="0.7"/>
<rect x="61.00" y="467.40" width="9.40" height="93.60" fill="#a23246"/>
<rect x="61.25" y="467.65" width="8.90" height="93.35" fill="none" stroke="#8a2638" stroke-width="0.6" opacity="0.9"/>
<line x1="65.70" y1="460.10" x2="65.70" y2="474.70" stroke="#1a1a1a" stroke-width="0.7"/>
<line x1="64.40" y1="460.10" x2="67.00" y2="460.10" stroke="#1a1a1a" stroke-width="0.7"/>
<line x1="64.40" y1="474.70" x2="67.00" y2="474.70" stroke="#1a1a1a" stroke-width="0.7"/>
<path d="M65.70 454.45L65.70 456.95M64.62 455.07L66.78 456.32M66.78 455.07L64.62 456.32" stroke="#1a1a1a" stroke-width="0.62" fill="none" stroke-linecap="round"/>
<rect x="70.40" y="480.20" width="9.40" height="80.80" fill="#78ab58"/>
<rect x="70.65" y="480.45" width="8.90" height="80.55" fill="none" stroke="#669848" stroke-width="0.6" opacity="0.9"/>
<line x1="75.10" y1="477.30" x2="75.10" y2="483.10" stroke="#1a1a1a" stroke-width="0.7"/>
<line x1="73.80" y1="477.30" x2="76.40" y2="477.30" stroke="#1a1a1a" stroke-width="0.7"/>
<line x1="73.80" y1="483.10" x2="76.40" y2="483.10" stroke="#1a1a1a" stroke-width="0.7"/>
<path d="M75.10 471.65L75.10 474.15M74.02 472.27L76.18 473.52M76.18 472.27L74.02 473.52" stroke="#1a1a1a" stroke-width="0.62" fill="none" stroke-linecap="round"/>
<rect x="79.80" y="483.10" width="9.40" height="77.90" fill="#6b4a72"/>
<rect x="80.05" y="483.35" width="8.90" height="77.65" fill="none" stroke="#573b5e" stroke-width="0.6" opacity="0.9"/>
<line x1="84.50" y1="479.60" x2="84.50" y2="486.60" stroke="#1a1a1a" stroke-width="0.7"/>
<line x1="83.20" y1="479.60" x2="85.80" y2="479.60" stroke="#1a1a1a" stroke-width="0.7"/>
<line x1="83.20" y1="486.60" x2="85.80" y2="486.60" stroke="#1a1a1a" stroke-width="0.7"/>
<path d="M84.50 473.95L84.50 476.45M83.42 474.57L85.58 475.82M85.58 474.57L83.42 475.82" stroke="#1a1a1a" stroke-width="0.62" fill="none" stroke-linecap="round"/>
<rect x="89.20" y="515.70" width="9.40" height="45.30" fill="#72a8d8"/>
<rect x="89.45" y="515.95" width="8.90" height="45.05" fill="none" stroke="#5e93c2" stroke-width="0.6" opacity="0.9"/>
<line x1="93.90" y1="513.30" x2="93.90" y2="518.10" stroke="#1a1a1a" stroke-width="0.7"/>
<line x1="92.60" y1="513.30" x2="95.20" y2="513.30" stroke="#1a1a1a" stroke-width="0.7"/>
<line x1="92.60" y1="518.10" x2="95.20" y2="518.10" stroke="#1a1a1a" stroke-width="0.7"/>
<path d="M92.35 507.65L92.35 510.15M91.27 508.28L93.43 509.53M93.43 508.28L91.27 509.53" stroke="#1a1a1a" stroke-width="0.62" fill="none" stroke-linecap="round"/>
<path d="M95.45 507.65L95.45 510.15M94.37 508.28L96.53 509.53M96.53 508.28L94.37 509.53" stroke="#1a1a1a" stroke-width="0.62" fill="none" stroke-linecap="round"/>
<rect x="98.60" y="525.40" width="9.40" height="35.60" fill="#dd9a3a"/>
<rect x="98.85" y="525.65" width="8.90" height="35.35" fill="none" stroke="#c4862c" stroke-width="0.6" opacity="0.9"/>
<line x1="103.30" y1="522.50" x2="103.30" y2="528.30" stroke="#1a1a1a" stroke-width="0.7"/>
<line x1="102.00" y1="522.50" x2="104.60" y2="522.50" stroke="#1a1a1a" stroke-width="0.7"/>
<line x1="102.00" y1="528.30" x2="104.60" y2="528.30" stroke="#1a1a1a" stroke-width="0.7"/>
<path d="M101.75 516.85L101.75 519.35M100.67 517.48L102.83 518.73M102.83 517.48L100.67 518.73" stroke="#1a1a1a" stroke-width="0.62" fill="none" stroke-linecap="round"/>
<path d="M104.85 516.85L104.85 519.35M103.77 517.48L105.93 518.73M105.93 517.48L103.77 518.73" stroke="#1a1a1a" stroke-width="0.62" fill="none" stroke-linecap="round"/>
<rect x="122.10" y="418.90" width="9.40" height="142.10" fill="#47607f"/>
<rect x="122.35" y="419.15" width="8.90" height="141.85" fill="none" stroke="#384d6b" stroke-width="0.6" opacity="0.9"/>
<line x1="126.80" y1="416.70" x2="126.80" y2="421.10" stroke="#1a1a1a" stroke-width="0.7"/>
<line x1="125.50" y1="416.70" x2="128.10" y2="416.70" stroke="#1a1a1a" stroke-width="0.7"/>
<line x1="125.50" y1="421.10" x2="128.10" y2="421.10" stroke="#1a1a1a" stroke-width="0.7"/>
<rect x="131.50" y="450.50" width="9.40" height="110.50" fill="#a23246"/>
<rect x="131.75" y="450.75" width="8.90" height="110.25" fill="none" stroke="#8a2638" stroke-width="0.6" opacity="0.9"/>
<line x1="136.20" y1="446.60" x2="136.20" y2="454.40" stroke="#1a1a1a" stroke-width="0.7"/>
<line x1="134.90" y1="446.60" x2="137.50" y2="446.60" stroke="#1a1a1a" stroke-width="0.7"/>
<line x1="134.90" y1="454.40" x2="137.50" y2="454.40" stroke="#1a1a1a" stroke-width="0.7"/>
<path d="M136.20 440.95L136.20 443.45M135.12 441.57L137.28 442.82M137.28 441.57L135.12 442.82" stroke="#1a1a1a" stroke-width="0.62" fill="none" stroke-linecap="round"/>
<rect x="140.90" y="469.00" width="9.40" height="92.00" fill="#78ab58"/>
<rect x="141.15" y="469.25" width="8.90" height="91.75" fill="none" stroke="#669848" stroke-width="0.6" opacity="0.9"/>
<line x1="145.60" y1="466.10" x2="145.60" y2="471.90" stroke="#1a1a1a" stroke-width="0.7"/>
<line x1="144.30" y1="466.10" x2="146.90" y2="466.10" stroke="#1a1a1a" stroke-width="0.7"/>
<line x1="144.30" y1="471.90" x2="146.90" y2="471.90" stroke="#1a1a1a" stroke-width="0.7"/>
<path d="M145.60 460.45L145.60 462.95M144.52 461.07L146.68 462.32M146.68 461.07L144.52 462.32" stroke="#1a1a1a" stroke-width="0.62" fill="none" stroke-linecap="round"/>
<rect x="150.30" y="460.30" width="9.40" height="100.70" fill="#6b4a72"/>
<rect x="150.55" y="460.55" width="8.90" height="100.45" fill="none" stroke="#573b5e" stroke-width="0.6" opacity="0.9"/>
<line x1="155.00" y1="456.30" x2="155.00" y2="464.30" stroke="#1a1a1a" stroke-width="0.7"/>
<line x1="153.70" y1="456.30" x2="156.30" y2="456.30" stroke="#1a1a1a" stroke-width="0.7"/>
<line x1="153.70" y1="464.30" x2="156.30" y2="464.30" stroke="#1a1a1a" stroke-width="0.7"/>
<path d="M155.00 450.65L155.00 453.15M153.92 451.27L156.08 452.52M156.08 451.27L153.92 452.52" stroke="#1a1a1a" stroke-width="0.62" fill="none" stroke-linecap="round"/>
<rect x="159.70" y="520.00" width="9.40" height="41.00" fill="#72a8d8"/>
<rect x="159.95" y="520.25" width="8.90" height="40.75" fill="none" stroke="#5e93c2" stroke-width="0.6" opacity="0.9"/>
<line x1="164.40" y1="515.20" x2="164.40" y2="524.80" stroke="#1a1a1a" stroke-width="0.7"/>
<line x1="163.10" y1="515.20" x2="165.70" y2="515.20" stroke="#1a1a1a" stroke-width="0.7"/>
<line x1="163.10" y1="524.80" x2="165.70" y2="524.80" stroke="#1a1a1a" stroke-width="0.7"/>
<path d="M162.85 509.55L162.85 512.05M161.77 510.18L163.93 511.43M163.93 510.18L161.77 511.43" stroke="#1a1a1a" stroke-width="0.62" fill="none" stroke-linecap="round"/>
<path d="M165.95 509.55L165.95 512.05M164.87 510.18L167.03 511.43M167.03 510.18L164.87 511.43" stroke="#1a1a1a" stroke-width="0.62" fill="none" stroke-linecap="round"/>
<rect x="169.10" y="527.30" width="9.40" height="33.70" fill="#dd9a3a"/>
<rect x="169.35" y="527.55" width="8.90" height="33.45" fill="none" stroke="#c4862c" stroke-width="0.6" opacity="0.9"/>
<line x1="173.80" y1="523.30" x2="173.80" y2="531.30" stroke="#1a1a1a" stroke-width="0.7"/>
<line x1="172.50" y1="523.30" x2="175.10" y2="523.30" stroke="#1a1a1a" stroke-width="0.7"/>
<line x1="172.50" y1="531.30" x2="175.10" y2="531.30" stroke="#1a1a1a" stroke-width="0.7"/>
<path d="M172.25 517.65L172.25 520.15M171.17 518.27L173.33 519.52M173.33 518.27L171.17 519.52" stroke="#1a1a1a" stroke-width="0.62" fill="none" stroke-linecap="round"/>
<path d="M175.35 517.65L175.35 520.15M174.27 518.27L176.43 519.52M176.43 518.27L174.27 519.52" stroke="#1a1a1a" stroke-width="0.62" fill="none" stroke-linecap="round"/>
<text x="79.6" y="575.5" font-size="9.1" text-anchor="middle" fill="#1a1a1a" textLength="15.2" lengthAdjust="spacingAndGlyphs" >LP-1</text>
<text x="150.1" y="575.5" font-size="9.1" text-anchor="middle" fill="#1a1a1a" textLength="24.5" lengthAdjust="spacingAndGlyphs" >OPM-2</text>
<rect x="193.9" y="454.70" width="4.6" height="4.6" fill="#47607f"/>
<text x="201.6" y="459.8" font-size="8.7" text-anchor="start" fill="#1a1a1a" textLength="25.5" lengthAdjust="spacingAndGlyphs" >Control</text>
<rect x="193.9" y="465.88" width="4.6" height="4.6" fill="#a23246"/>
<text x="201.6" y="470.98" font-size="8.7" text-anchor="start" fill="#1a1a1a" textLength="11.5" lengthAdjust="spacingAndGlyphs" >JQ1</text>
<rect x="193.9" y="477.06" width="4.6" height="4.6" fill="#78ab58"/>
<text x="201.6" y="482.16" font-size="8.7" text-anchor="start" fill="#1a1a1a" textLength="34.2" lengthAdjust="spacingAndGlyphs" >Vorinostat</text>
<rect x="193.9" y="488.24" width="4.6" height="4.6" fill="#6b4a72"/>
<text x="201.6" y="493.34000000000003" font-size="8.7" text-anchor="start" fill="#1a1a1a" textLength="40" lengthAdjust="spacingAndGlyphs" >Ricolinostat</text>
<rect x="193.9" y="499.42" width="4.6" height="4.6" fill="#72a8d8"/>
<text x="201.6" y="504.52" font-size="8.7" text-anchor="start" fill="#1a1a1a" textLength="32.5" lengthAdjust="spacingAndGlyphs" >JQ1+VOR</text>
<rect x="193.9" y="510.60" width="4.6" height="4.6" fill="#dd9a3a"/>
<text x="201.6" y="515.7" font-size="8.7" text-anchor="start" fill="#1a1a1a" textLength="34.3" lengthAdjust="spacingAndGlyphs" >JQ1+RICO</text>
<line x1="306.00" y1="436.00" x2="306.00" y2="561.60" stroke="#1a1a1a" stroke-width="1.15"/>
<line x1="302.70" y1="561.00" x2="306.00" y2="561.00" stroke="#1a1a1a" stroke-width="0.9"/>
<text x="299.3" y="563.2" font-size="8.3" text-anchor="end" fill="#1a1a1a" >0</text>
<line x1="302.70" y1="548.77" x2="306.00" y2="548.77" stroke="#1a1a1a" stroke-width="0.9"/>
<text x="299.3" y="550.975" font-size="8.3" text-anchor="end" fill="#1a1a1a" >10</text>
<line x1="302.70" y1="536.55" x2="306.00" y2="536.55" stroke="#1a1a1a" stroke-width="0.9"/>
<text x="299.3" y="538.75" font-size="8.3" text-anchor="end" fill="#1a1a1a" >20</text>
<line x1="302.70" y1="524.33" x2="306.00" y2="524.33" stroke="#1a1a1a" stroke-width="0.9"/>
<text x="299.3" y="526.5250000000001" font-size="8.3" text-anchor="end" fill="#1a1a1a" >30</text>
<line x1="302.70" y1="512.10" x2="306.00" y2="512.10" stroke="#1a1a1a" stroke-width="0.9"/>
<text x="299.3" y="514.3000000000001" font-size="8.3" text-anchor="end" fill="#1a1a1a" >40</text>
<line x1="302.70" y1="499.88" x2="306.00" y2="499.88" stroke="#1a1a1a" stroke-width="0.9"/>
<text x="299.3" y="502.075" font-size="8.3" text-anchor="end" fill="#1a1a1a" >50</text>
<line x1="302.70" y1="487.65" x2="306.00" y2="487.65" stroke="#1a1a1a" stroke-width="0.9"/>
<text x="299.3" y="489.84999999999997" font-size="8.3" text-anchor="end" fill="#1a1a1a" >60</text>
<line x1="302.70" y1="475.43" x2="306.00" y2="475.43" stroke="#1a1a1a" stroke-width="0.9"/>
<text x="299.3" y="477.625" font-size="8.3" text-anchor="end" fill="#1a1a1a" >70</text>
<line x1="302.70" y1="463.20" x2="306.00" y2="463.20" stroke="#1a1a1a" stroke-width="0.9"/>
<text x="299.3" y="465.4" font-size="8.3" text-anchor="end" fill="#1a1a1a" >80</text>
<line x1="302.70" y1="450.98" x2="306.00" y2="450.98" stroke="#1a1a1a" stroke-width="0.9"/>
<text x="299.3" y="453.175" font-size="8.3" text-anchor="end" fill="#1a1a1a" >90</text>
<line x1="302.70" y1="438.75" x2="306.00" y2="438.75" stroke="#1a1a1a" stroke-width="0.9"/>
<text x="299.3" y="440.95" font-size="8.3" text-anchor="end" fill="#1a1a1a" >100</text>
<line x1="305.40" y1="561.00" x2="512.00" y2="561.00" stroke="#1a1a1a" stroke-width="1.2"/>
<line x1="306.00" y1="561.00" x2="306.00" y2="564.20" stroke="#1a1a1a" stroke-width="0.9"/>
<line x1="339.90" y1="561.00" x2="339.90" y2="564.20" stroke="#1a1a1a" stroke-width="0.9"/>
<line x1="373.80" y1="561.00" x2="373.80" y2="564.20" stroke="#1a1a1a" stroke-width="0.9"/>
<line x1="407.70" y1="561.00" x2="407.70" y2="564.20" stroke="#1a1a1a" stroke-width="0.9"/>
<line x1="441.60" y1="561.00" x2="441.60" y2="564.20" stroke="#1a1a1a" stroke-width="0.9"/>
<line x1="475.50" y1="561.00" x2="475.50" y2="564.20" stroke="#1a1a1a" stroke-width="0.9"/>
<line x1="509.40" y1="561.00" x2="509.40" y2="564.20" stroke="#1a1a1a" stroke-width="0.9"/>
<text x="278.3" y="499.1" font-size="9" text-anchor="middle" fill="#1a1a1a" textLength="113" lengthAdjust="spacingAndGlyphs" transform="rotate(-90 278.3 499.1)">Cell viability (% of control)</text>
<rect x="316.15" y="438.75" width="13.10" height="122.25" fill="#4d7862"/>
<rect x="316.40" y="439.00" width="12.60" height="122.00" fill="none" stroke="#3f6652" stroke-width="0.6" opacity="0.9"/>
<line x1="321.40" y1="438.75" x2="324.00" y2="438.75" stroke="#1a1a1a" stroke-width="0.7"/>
<text x="326.2" y="572.5" font-size="8.4" text-anchor="end" fill="#1a1a1a" textLength="28" lengthAdjust="spacingAndGlyphs" transform="rotate(-45 326.2 572.5)" >Control</text>
<rect x="350.05" y="478.25" width="13.10" height="82.75" fill="#4d7862"/>
<rect x="350.30" y="478.50" width="12.60" height="82.50" fill="none" stroke="#3f6652" stroke-width="0.6" opacity="0.9"/>
<line x1="356.60" y1="458.25" x2="356.60" y2="498.00" stroke="#1a1a1a" stroke-width="0.7"/>
<line x1="355.10" y1="458.25" x2="358.10" y2="458.25" stroke="#1a1a1a" stroke-width="0.7"/>
<line x1="355.10" y1="498.00" x2="358.10" y2="498.00" stroke="#1a1a1a" stroke-width="0.7"/>
<path d="M356.60 452.90L356.60 455.40M355.52 453.52L357.68 454.77M357.68 453.52L355.52 454.77" stroke="#1a1a1a" stroke-width="0.62" fill="none" stroke-linecap="round"/>
<text x="360.1" y="572.5" font-size="8.4" text-anchor="end" fill="#1a1a1a" textLength="13.5" lengthAdjust="spacingAndGlyphs" transform="rotate(-45 360.1 572.5)" >JQ1</text>
<rect x="383.95" y="491.20" width="13.10" height="69.80" fill="#4d7862"/>
<rect x="384.20" y="491.45" width="12.60" height="69.55" fill="none" stroke="#3f6652" stroke-width="0.6" opacity="0.9"/>
<line x1="390.50" y1="477.00" x2="390.50" y2="505.20" stroke="#1a1a1a" stroke-width="0.7"/>
<line x1="389.00" y1="477.00" x2="392.00" y2="477.00" stroke="#1a1a1a" stroke-width="0.7"/>
<line x1="389.00" y1="505.20" x2="392.00" y2="505.20" stroke="#1a1a1a" stroke-width="0.7"/>
<path d="M390.50 471.65L390.50 474.15M389.42 472.27L391.58 473.52M391.58 472.27L389.42 473.52" stroke="#1a1a1a" stroke-width="0.62" fill="none" stroke-linecap="round"/>
<text x="394.0" y="572.5" font-size="8.4" text-anchor="end" fill="#1a1a1a" textLength="37" lengthAdjust="spacingAndGlyphs" transform="rotate(-45 394.0 572.5)" >Vorinostat</text>
<rect x="417.85" y="484.20" width="13.10" height="76.80" fill="#4d7862"/>
<rect x="418.10" y="484.45" width="12.60" height="76.55" fill="none" stroke="#3f6652" stroke-width="0.6" opacity="0.9"/>
<line x1="424.40" y1="466.20" x2="424.40" y2="501.70" stroke="#1a1a1a" stroke-width="0.7"/>
<line x1="422.90" y1="466.20" x2="425.90" y2="466.20" stroke="#1a1a1a" stroke-width="0.7"/>
<line x1="422.90" y1="501.70" x2="425.90" y2="501.70" stroke="#1a1a1a" stroke-width="0.7"/>
<path d="M424.40 460.85L424.40 463.35M423.32 461.47L425.48 462.72M425.48 461.47L423.32 462.72" stroke="#1a1a1a" stroke-width="0.62" fill="none" stroke-linecap="round"/>
<text x="427.9" y="572.5" font-size="8.4" text-anchor="end" fill="#1a1a1a" textLength="44" lengthAdjust="spacingAndGlyphs" transform="rotate(-45 427.9 572.5)" >Ricolinostat</text>
<rect x="451.75" y="534.70" width="13.10" height="26.30" fill="#4d7862"/>
<rect x="452.00" y="534.95" width="12.60" height="26.05" fill="none" stroke="#3f6652" stroke-width="0.6" opacity="0.9"/>
<line x1="458.30" y1="529.30" x2="458.30" y2="539.80" stroke="#1a1a1a" stroke-width="0.7"/>
<line x1="456.80" y1="529.30" x2="459.80" y2="529.30" stroke="#1a1a1a" stroke-width="0.7"/>
<line x1="456.80" y1="539.80" x2="459.80" y2="539.80" stroke="#1a1a1a" stroke-width="0.7"/>
<path d="M456.75 523.95L456.75 526.45M455.67 524.58L457.83 525.83M457.83 524.58L455.67 525.83" stroke="#1a1a1a" stroke-width="0.62" fill="none" stroke-linecap="round"/>
<path d="M459.85 523.95L459.85 526.45M458.77 524.58L460.93 525.83M460.93 524.58L458.77 525.83" stroke="#1a1a1a" stroke-width="0.62" fill="none" stroke-linecap="round"/>
<text x="461.79999999999995" y="572.5" font-size="8.4" text-anchor="end" fill="#1a1a1a" textLength="35" lengthAdjust="spacingAndGlyphs" transform="rotate(-45 461.79999999999995 572.5)" >JQ1+VOR</text>
<rect x="485.65" y="532.00" width="13.10" height="29.00" fill="#4d7862"/>
<rect x="485.90" y="532.25" width="12.60" height="28.75" fill="none" stroke="#3f6652" stroke-width="0.6" opacity="0.9"/>
<line x1="492.20" y1="525.00" x2="492.20" y2="538.70" stroke="#1a1a1a" stroke-width="0.7"/>
<line x1="490.70" y1="525.00" x2="493.70" y2="525.00" stroke="#1a1a1a" stroke-width="0.7"/>
<line x1="490.70" y1="538.70" x2="493.70" y2="538.70" stroke="#1a1a1a" stroke-width="0.7"/>
<path d="M490.65 519.65L490.65 522.15M489.57 520.28L491.73 521.53M491.73 520.28L489.57 521.53" stroke="#1a1a1a" stroke-width="0.62" fill="none" stroke-linecap="round"/>
<path d="M493.75 519.65L493.75 522.15M492.67 520.28L494.83 521.53M494.83 520.28L492.67 521.53" stroke="#1a1a1a" stroke-width="0.62" fill="none" stroke-linecap="round"/>
<text x="495.7" y="572.5" font-size="8.4" text-anchor="end" fill="#1a1a1a" textLength="37.5" lengthAdjust="spacingAndGlyphs" transform="rotate(-45 495.7 572.5)" >JQ1+RICO</text>
<text x="405.6" y="452.6" font-size="8.7" text-anchor="start" fill="#1a1a1a" textLength="87.4" lengthAdjust="spacingAndGlyphs" >CD138+ primary MM cells</text>
<rect x="0" y="0" width="1.6" height="612" fill="#4a4a4a"/>
<rect x="0" y="0" width="520" height="1.2" fill="#111"/>
<rect x="518.85" y="0" width="1.15" height="612" fill="#111"/>
<rect x="0" y="611.0" width="520" height="1.0" fill="#111"/>
</svg></body></html>
